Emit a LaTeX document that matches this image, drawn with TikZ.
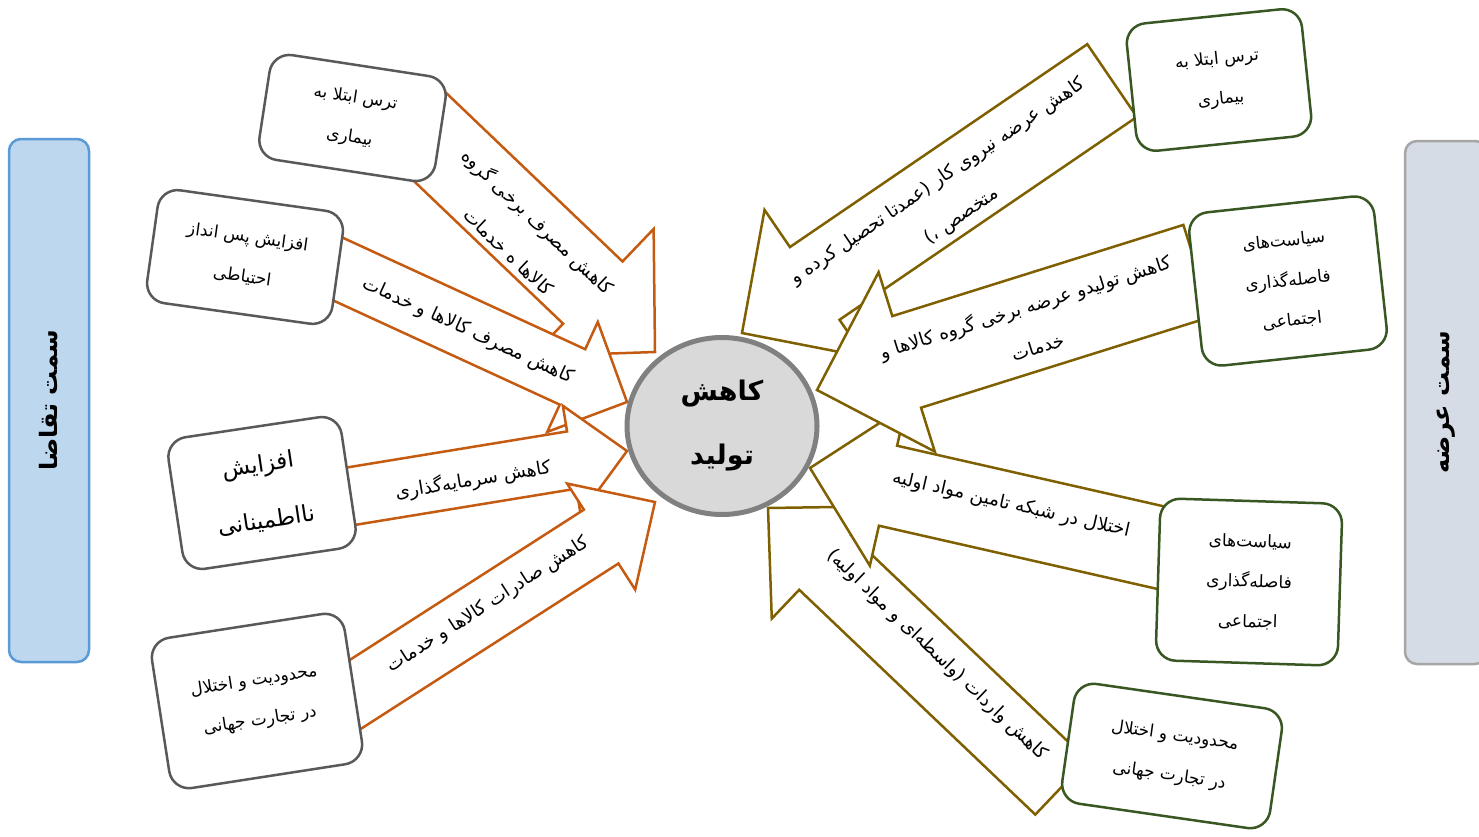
\documentclass[tikz,border=0pt]{standalone}
\usepackage{fontspec}
\usetikzlibrary{shapes.geometric}
\newfontfamily\arabicfont[Script=Arabic]{DejaVu Sans}
\TeXXeTstate=1
\definecolor{demandorange}{HTML}{C55A11}
\definecolor{supplyolive}{HTML}{7F6000}
\definecolor{boxgray}{HTML}{595959}
\definecolor{boxgreen}{HTML}{385723}
\definecolor{prodfill}{HTML}{D9D9D9}
\definecolor{prodline}{HTML}{808080}
\definecolor{demandfill}{HTML}{BDD7EE}
\definecolor{demandedge}{HTML}{5B9BD5}
\definecolor{supplyfill}{HTML}{D6DCE5}
\definecolor{supplyedge}{HTML}{A6A6A6}
\tikzset{pics/blockarrow/.style args={#1/#2/#3/#4}{code={
  \draw[pic actions] (0,0) -- (-#4,#3) -- (-#4,#2) -- (-#1,#2) -- (-#1,-#2) -- (-#4,-#2) -- (-#4,-#3) -- cycle;}}}

\begin{document}
\begin{tikzpicture}
  [x=1pt, y=-1pt,
   every node/.style={font=\arabicfont\fontsize{18.5}{42}\selectfont, align=center, inner sep=0},
   demandarrow/.style={draw=demandorange, fill=white, line width=2.5pt},
   supplyarrow/.style={draw=supplyolive, fill=white, line width=2.5pt},
   causebox/.style={rectangle, rounded corners=20pt, fill=white, line width=2.5pt, font=\arabicfont\fontsize{17}{40}\selectfont},
   demandcause/.style={causebox, draw=boxgray},
   supplycause/.style={causebox, draw=boxgreen},
   sidebar/.style={rectangle, rounded corners=12pt, line width=2.5pt, minimum width=523, minimum height=80, rotate=90, font=\arabicfont\bfseries\fontsize{24}{30}\selectfont}]

  \useasboundingbox (0,0) rectangle (1479,836);

  \pic[demandarrow, rotate=-43.7] at (655,352) {blockarrow=345/43/88/86};
  \node[rotate=-43.7] (a1) at (524,236) {\beginR کاهش مصرف برخی گروه\endR\\\beginR کالاها ه خدمات\endR};
  \pic[demandarrow, rotate=-24.7] at (627,402) {blockarrow=370/30.5/60.5/60};
  \node[rotate=-24.7] (a2) at (468,331) {\beginR کاهش مصرف کالاها و خدمات\endR};
  \pic[demandarrow, rotate=9.3] at (627,451) {blockarrow=320/29/55/56};
  \node[rotate=9.3] (a3) at (473,480) {\beginR کاهش سرمایه‌گذاری\endR};
  \pic[demandarrow, rotate=32.7] at (655,502) {blockarrow=390/32/63/64};
  \node[rotate=32.7] (a4) at (488,605) {\beginR کاهش صادرات کالاها و خدمات\endR};

  \pic[supplyarrow, rotate=-223.6] at (768,508) {blockarrow=405/37.7/77.5/79};
  \node[rotate=-43.6] (r4) at (937,655) {\beginR کاهش واردات (واسطه‌ای و مواد اولیه)\endR};
  \pic[supplyarrow, rotate=-192.8] at (810,468) {blockarrow=366/41/82/80};
  \node[rotate=-12.8] (r3) at (1011,505) {\beginR اختلال در شبکه تامین مواد اولیه\endR};
  \pic[supplyarrow, rotate=-145.7] at (742,333) {blockarrow=448/44/89/88};
  \node[rotate=34.3] (r1) at (950,199) {\beginR کاهش عرضه نیروی کار (عمدتا تحصیل کرده و\endR\\\beginR متخصص ،)\endR};
  \pic[supplyarrow, rotate=-162.6] at (817,390) {blockarrow=399/48/94/94};
  \node[rotate=17.4] (r2) at (1031,326) {\beginR کاهش تولیدو عرضه برخی گروه کالاها و\endR\\\beginR خدمات\endR};

  \node[demandcause, rotate=-8.7, minimum width=178, minimum height=106] (d1) at (352.5,118) {\beginR ترس ابتلا به\endR\\\beginR بیماری\endR};
  \node[demandcause, rotate=-8, minimum width=187, minimum height=114] (d2) at (245,257) {\beginR افزایش پس انداز\endR\\\beginR احتیاطی\endR};
  \node[demandcause, rotate=8.5, minimum width=175, minimum height=133, font=\arabicfont\fontsize{23}{56}\selectfont] (d3) at (262,493) {\beginR افزایش\endR\\\beginR نااطمینانی\endR};
  \node[demandcause, rotate=8.8, minimum width=195, minimum height=152] (d4) at (257,701) {\beginR محدودیت و اختلال\endR\\\beginR در تجارت جهانی\endR};

  \node[supplycause, rotate=5.9, minimum width=176, minimum height=128] (s1) at (1219,80) {\beginR ترس ابتلا به\endR\\\beginR بیماری\endR};
  \node[supplycause, rotate=6.2, minimum width=186, minimum height=154] (s2) at (1288,281) {\beginR سیاست‌های\endR\\\beginR فاصله‌گذاری\endR\\\beginR اجتماعی\endR};
  \node[supplycause, rotate=-1.8, minimum width=182, minimum height=162] (s3) at (1249,582) {\beginR سیاست‌های\endR\\\beginR فاصله‌گذاری\endR\\\beginR اجتماعی\endR};
  \node[supplycause, rotate=-8.2, minimum width=210, minimum height=121] (s4) at (1172,756) {\beginR محدودیت و اختلال\endR\\\beginR در تجارت جهانی\endR};

  \node[ellipse, minimum width=190, minimum height=177, draw=prodline, fill=prodfill, line width=5pt, font=\arabicfont\bfseries\fontsize{27}{64}\selectfont] (prod) at (722,426) {\beginR کاهش\endR\\\beginR تولید\endR};

  \node[sidebar, draw=demandedge, fill=demandfill] (demand) at (49,400.5) {\beginR سمت تقاضا\endR};
  \node[sidebar, draw=supplyedge, fill=supplyfill, minimum height=82] (supply) at (1446,402.5) {\beginR سمت عرضه\endR};

\end{tikzpicture}
\end{document}
